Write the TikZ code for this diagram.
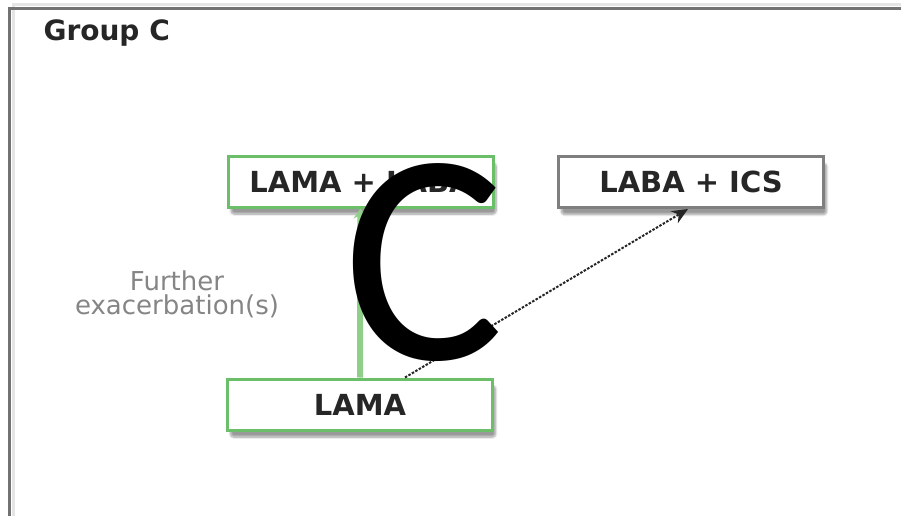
\documentclass[tikz,border=0pt]{standalone}
\usepackage{fontspec}
\setmainfont{DejaVu Sans}
\newfontfamily\bigletter{Carlito}
\usetikzlibrary{arrows.meta,shadows.blur}
\definecolor{framegray}{HTML}{727272}
\definecolor{boxgreen}{HTML}{6CBF69}
\definecolor{linkgreen}{HTML}{8FCF8A}
\definecolor{boxgray}{HTML}{7F7F7F}
\definecolor{labelgray}{HTML}{858585}
\tikzset{
  x=1pt, y=1pt,
  stagebox/.style={draw=#1, line width=3pt, fill=white, minimum width=265pt,
    minimum height=51pt, inner sep=0pt,
    font=\fontsize{29}{30}\selectfont\bfseries, text=black!85,
    blur shadow={shadow xshift=3pt, shadow yshift=-7pt, shadow blur steps=8,
      shadow blur extra rounding=3pt, shadow opacity=40}},
  notetext/.style={text=labelgray, inner sep=0pt, font=\fontsize{26}{26}\selectfont},
  greenlink/.style={linkgreen, line width=6pt, -{Stealth[length=10pt,width=14pt]}},
  dashlink/.style={black!85, line width=2pt, dash pattern=on 2.5pt off 1.5pt,
    -{Stealth[length=16pt,width=14pt]}},
}
\begin{document}
\begin{tikzpicture}
\useasboundingbox (0,0) rectangle (901,-516);
\begin{scope}
\clip (0,0) rectangle (901,-516);
% panel frame, open to the right and bottom
\draw[black!10, line width=3pt] (13.5,-520) |- (905,-4.5);
\draw[framegray, line width=3pt] (9.5,-520) |- (905,-8.5);
\end{scope}

\node[anchor=west, font=\fontsize{28}{30}\selectfont\bfseries, text=black!85]
  (title) at (40,-33) {Group C};

\node[stagebox=boxgreen] (combo) at (360.5,-181.5) {LAMA + LABA};
\node[stagebox=boxgray]  (icsbox) at (691,-182) {LABA + ICS};
\node[stagebox=boxgreen] (lama) at (360,-404.5) {LAMA};

\node[notetext, anchor=base] (note1) at (177,-290) {Further};
\node[notetext, anchor=base] (note2) at (177,-314) {exacerbation(s)};

\draw[greenlink] (lama.north) -- (combo.south);
\draw[dashlink] ([xshift=45pt]lama.north) -- ([xshift=-3pt]icsbox.south);

\node[font=\bigletter\fontsize{302}{302}\selectfont, text=black, inner sep=0pt]
  (big) at (424,-262.5) {C};
\end{tikzpicture}
\end{document}
